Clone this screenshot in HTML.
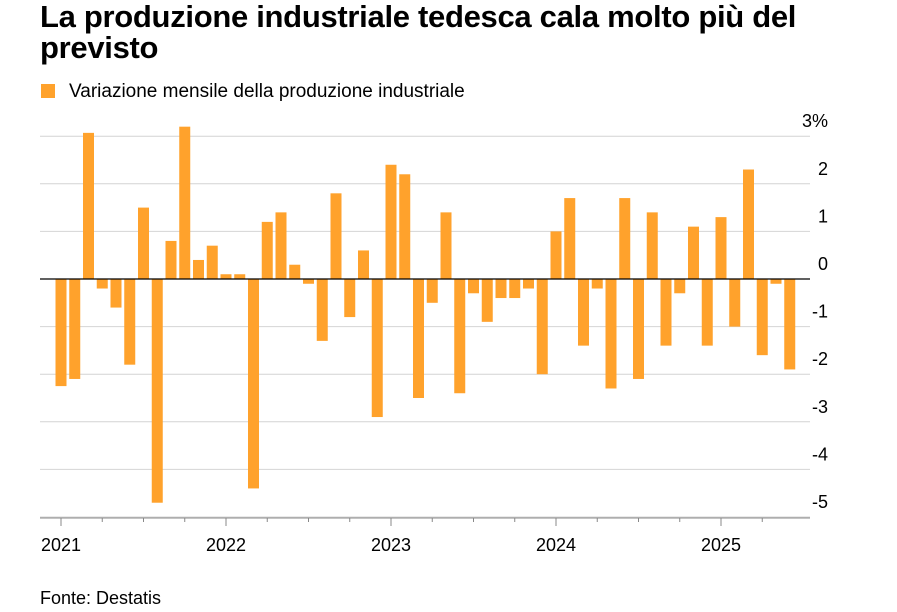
<!DOCTYPE html>
<html><head><meta charset="utf-8"><style>
body{margin:0;background:#fff;font-family:"Liberation Sans",Arial,sans-serif;}
#wrap{position:relative;width:897px;height:612px;overflow:hidden}
h1{position:absolute;left:40px;top:1px;margin:0;font-size:31px;line-height:31px;font-weight:bold;color:#000;width:800px;letter-spacing:-0.3px}
</style></head><body>
<div id="wrap">
<h1>La produzione industriale tedesca cala molto più del previsto</h1>
<svg id="svg" width="897" height="612" style="position:absolute;left:0;top:0"></svg>
</div>
<script>
const values=[-2.25,-2.1,3.07,-0.2,-0.6,-1.8,1.5,-4.7,0.8,3.2,0.4,0.7,
0.1,0.1,-4.4,1.2,1.4,0.3,-0.1,-1.3,1.8,-0.8,0.6,-2.9,
2.4,2.2,-2.5,-0.5,1.4,-2.4,-0.3,-0.9,-0.4,-0.4,-0.2,-2.0,
1.0,1.7,-1.4,-0.2,-2.3,1.7,-2.1,1.4,-1.4,-0.3,1.1,-1.4,
1.3,-1.0,2.3,-1.6,-0.1,-1.9];
const yTicks=[3,2,1,0,-1,-2,-3,-4,-5];
const yLabels=["3%","2","1","0","-1","-2","-3","-4","-5"];
const years=["2021","2022","2023","2024","2025"];
const NS="http://www.w3.org/2000/svg";
const svg=document.getElementById('svg');
const y=v=>279-v*47.6;
const x=i=>61+i*13.75;
function mk(t,a){const e=document.createElementNS(NS,t);for(const k in a)e.setAttribute(k,a[k]);svg.appendChild(e);return e;}
let lg=mk('rect',{x:41,y:84,width:14,height:14,fill:'#ffa22c'});


let lt=mk('text',{x:69,y:97,'font-size':19,fill:'#000'});lt.textContent='Variazione mensile della produzione industriale';


yTicks.forEach((t,i)=>{
 const g=mk('line',{x1:40,x2:810,y1:y(t),y2:y(t),stroke:'#d4d4d4','stroke-width':1});
 
 
 const l=mk('text',{x:828,y:y(t)-9,'font-size':18,'text-anchor':'end',fill:'#000'});l.textContent=yLabels[i];
 
 
});
values.forEach((v,i)=>{
 const b=mk('rect',{x:x(i)-5.5,width:11,y:Math.min(y(v),y(0)),height:Math.abs(y(v)-y(0)),fill:'#ffa22c'});
 
 
});
const z=mk('line',{x1:40,x2:810,y1:y(0),y2:y(0),stroke:'#000','stroke-width':1.3});


const ax=mk('line',{x1:40,x2:810,y1:518,y2:518,stroke:'#888','stroke-width':1});


for(let q=0;q<values.length;q+=3){
 const tk=mk('line',{x1:x(q),x2:x(q),y1:518,y2:q%12===0?526:522,stroke:'#888'});
 
 
}
years.forEach((yr,i)=>{
 const t=mk('text',{x:x(i*12),y:551,'font-size':18,'text-anchor':'middle',fill:'#000'});t.textContent=yr;
 
 
});
const s=mk('text',{x:40,y:604,'font-size':18,fill:'#000'});s.textContent='Fonte: Destatis';


</script>
</body></html>
